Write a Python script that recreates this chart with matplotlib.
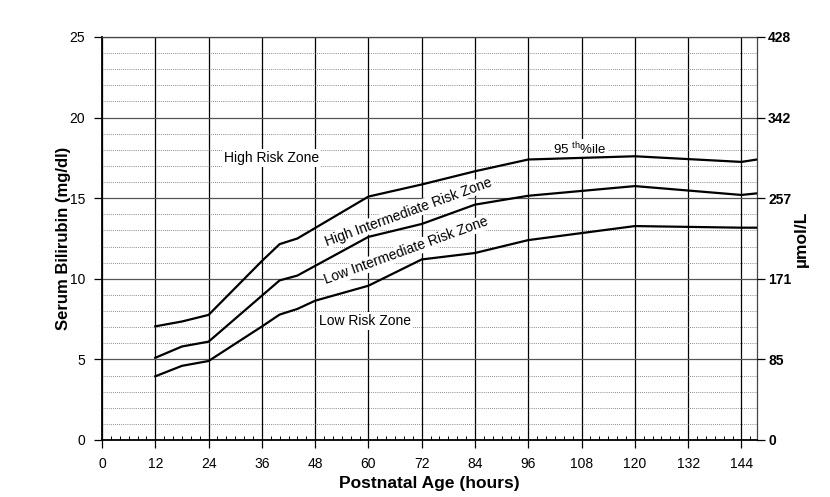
import matplotlib
matplotlib.use("Agg")
import matplotlib.pyplot as plt
from matplotlib.ticker import MultipleLocator

plt.rcParams['font.family'] = ['Liberation Sans', 'DejaVu Sans']
plt.rcParams['mathtext.fontset'] = 'custom'
plt.rcParams['mathtext.rm'] = 'Liberation Sans'

# hours of the nomogram points
hours = [12, 18, 24, 36, 40, 44, 48, 60, 72, 84, 96, 120, 144, 147.5]
# 95th percentile
p95 = [7.05, 7.35, 7.76, 11.1, 12.15, 12.5, 13.15, 15.1, 15.85, 16.67, 17.4, 17.6, 17.25, 17.4]
# 75th percentile (high intermediate / low intermediate border)
p75 = [5.1, 5.8, 6.1, 8.95, 9.9, 10.2, 10.8, 12.6, 13.4, 14.6, 15.15, 15.75, 15.2, 15.3]
# 40th percentile
p40 = [3.95, 4.6, 4.9, 7.04, 7.78, 8.13, 8.64, 9.57, 11.2, 11.6, 12.4, 13.27, 13.17, 13.17]

x_ticks = list(range(0, 145, 12))
y_ticks = [0, 5, 10, 15, 20, 25]
umol_labels = ["0", "85", "171", "257", "342", "428"]

fig = plt.figure(figsize=(8.3, 4.97), dpi=100)
ax = fig.add_axes([0.1229, 0.1147, 0.912 - 0.1229, 0.9256 - 0.1147])

ax.set_xlim(0, 147.5)
ax.set_ylim(0, 25)
ax.set_xticks(x_ticks)
ax.set_yticks(y_ticks)
ax.xaxis.set_minor_locator(MultipleLocator(2))
ax.yaxis.set_minor_locator(MultipleLocator(1))

ax.set_axisbelow(True)
ax.grid(axis='x', which='major', color='black', lw=0.9)
ax.grid(axis='y', which='major', color='#555555', lw=0.9)
ax.grid(axis='y', which='minor', color='#666666', lw=0.6, linestyle=(0, (1, 1.5)))

ax.tick_params(axis='x', which='major', direction='out', length=6, width=0.9, pad=6, labelsize=10)
ax.tick_params(axis='x', which='minor', direction='in', length=3, width=0.7)
ax.tick_params(axis='y', which='major', direction='out', length=6, width=0.9, pad=6, labelsize=10)
ax.tick_params(axis='y', which='minor', length=0)

for s in ['left', 'bottom']:
    ax.spines[s].set_linewidth(1.3)
for s in ['top', 'right']:
    ax.spines[s].set_linewidth(0.9)
    ax.spines[s].set_color('#444444')

ax.plot(hours, p95, color='black', lw=1.6, zorder=3)
ax.plot(hours, p75, color='black', lw=1.6, zorder=3)
ax.plot(hours, p40, color='black', lw=1.6, zorder=3)

box = dict(facecolor='white', edgecolor='none', pad=1.5)
ax.text(38.2, 17.5, "High Risk Zone", ha='center', va='center', fontsize=10, bbox=box, zorder=2)
ax.text(59.3, 7.4, "Low Risk Zone", ha='center', va='center', fontsize=10, bbox=box, zorder=2)
ax.text(107.6, 18.05, r"95 $^{\mathrm{th}}$%ile", ha='center', va='center', fontsize=9.5, bbox=box, zorder=2)
ax.text(69.1, 14.15, "High Intermediate Risk Zone", ha='center', va='center', fontsize=10,
        rotation=20, rotation_mode='anchor', bbox=dict(facecolor='white', edgecolor='none', pad=0.5), zorder=2)
ax.text(68.6, 11.73, "Low Intermediate Risk Zone", ha='center', va='center', fontsize=10,
        rotation=20, rotation_mode='anchor', bbox=dict(facecolor='white', edgecolor='none', pad=0.5), zorder=2)

ax.set_xlabel("Postnatal Age (hours)", fontsize=12.5, fontweight='bold', labelpad=4)
ax.set_ylabel("Serum Bilirubin (mg/dl)", fontsize=12, fontweight='bold', labelpad=-1)

ax2 = ax.twinx()
ax2.set_ylim(ax.get_ylim())
ax2.set_yticks(y_ticks)
ax2.set_yticklabels(umol_labels, fontweight='bold')
ax2.tick_params(axis='y', direction='out', length=6, width=0.9, pad=2, labelsize=10)
ax2.set_ylabel("µmol/L", fontsize=12.5, fontweight='bold', labelpad=1.5)
for s in ax2.spines.values():
    s.set_visible(False)

fig.savefig("out.png", dpi=100)
